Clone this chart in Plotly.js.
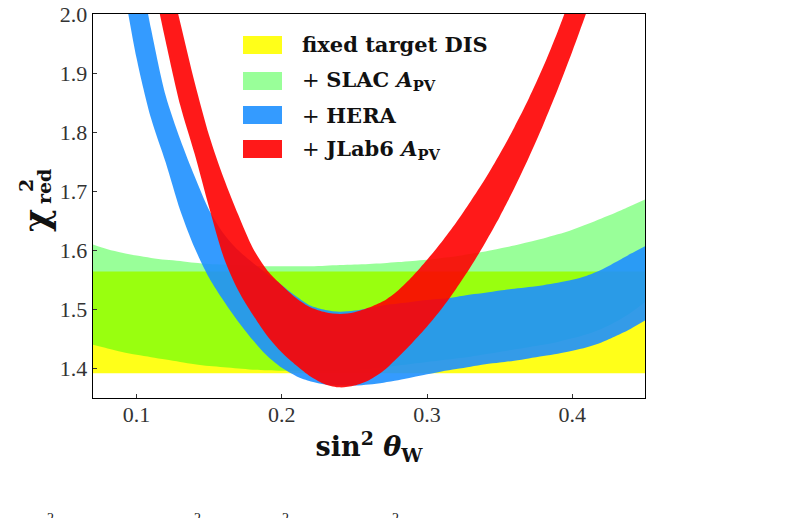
<!DOCTYPE html>
<html>
<head>
<meta charset="utf-8">
<script src="https://cdn.plot.ly/plotly-3.0.1.min.js"></script>
<style>
  html, body { margin: 0; padding: 0; background: #fff; }
  #chart { width: 792px; height: 518px; }
</style>
</head>
<body>
<div id="chart"></div>
<script>
// sin^2(theta_W) scan grid
const sin2w = [0.07, 0.08, 0.09, 0.10, 0.11, 0.12, 0.13, 0.14, 0.15, 0.16,
               0.17, 0.18, 0.19, 0.20, 0.21, 0.22, 0.23, 0.24, 0.25, 0.26,
               0.27, 0.28, 0.29, 0.30, 0.31, 0.32, 0.33, 0.34, 0.35, 0.36,
               0.37, 0.38, 0.39, 0.40, 0.41, 0.42, 0.43, 0.44, 0.45];

// fixed target DIS only: flat chi2_red band
const disX  = [0.07, 0.45];
const disLo = [1.392, 1.392];
const disHi = [1.564, 1.564];

// + SLAC A_PV
const slacLo = [1.440, 1.434, 1.428, 1.423, 1.419, 1.415, 1.411, 1.407, 1.404, 1.402,
                1.400, 1.398, 1.397, 1.396, 1.396, 1.396, 1.396, 1.397, 1.398, 1.400,
                1.402, 1.405, 1.408, 1.411, 1.414, 1.417, 1.420, 1.424, 1.428, 1.432,
                1.436, 1.440, 1.445, 1.451, 1.458, 1.467, 1.479, 1.494, 1.512];
const slacHi = [1.610, 1.602, 1.596, 1.591, 1.587, 1.584, 1.582, 1.579, 1.577, 1.576,
                1.575, 1.574, 1.573, 1.573, 1.573, 1.573, 1.574, 1.575, 1.576, 1.577,
                1.578, 1.580, 1.582, 1.584, 1.587, 1.590, 1.594, 1.598, 1.603, 1.608,
                1.614, 1.620, 1.627, 1.635, 1.644, 1.654, 1.664, 1.675, 1.686];

// + HERA
const heraLo = [2.350, 2.200, 2.060, 1.925, 1.823, 1.749, 1.668, 1.604, 1.553, 1.514,
                1.479, 1.448, 1.421, 1.401, 1.387, 1.378, 1.373, 1.371, 1.371, 1.373,
                1.376, 1.380, 1.385, 1.390, 1.395, 1.399, 1.403, 1.407, 1.410, 1.413,
                1.417, 1.421, 1.425, 1.430, 1.436, 1.444, 1.455, 1.467, 1.481];
const heraHi = [2.520, 2.380, 2.240, 2.104, 1.974, 1.862, 1.788, 1.725, 1.668, 1.628,
                1.600, 1.579, 1.560, 1.541, 1.522, 1.506, 1.499, 1.496, 1.498, 1.502,
                1.507, 1.510, 1.513, 1.516, 1.518, 1.521, 1.525, 1.528, 1.532, 1.535,
                1.538, 1.541, 1.545, 1.550, 1.557, 1.567, 1.580, 1.594, 1.607];

// + JLab6 A_PV
const jlabLo = [2.550, 2.430, 2.310, 2.190, 2.070, 1.954, 1.846, 1.763, 1.672, 1.588,
                1.532, 1.491, 1.455, 1.427, 1.405, 1.386, 1.373, 1.368, 1.371, 1.380,
                1.396, 1.419, 1.444, 1.471, 1.501, 1.535, 1.572, 1.613, 1.657, 1.705,
                1.757, 1.813, 1.873, 1.937, 2.005, 2.077, 2.150, 2.230, 2.310];
const jlabHi = [2.700, 2.580, 2.460, 2.340, 2.210, 2.090, 1.986, 1.884, 1.794, 1.722,
                1.660, 1.604, 1.566, 1.541, 1.519, 1.503, 1.495, 1.492, 1.495, 1.503,
                1.514, 1.532, 1.556, 1.584, 1.614, 1.647, 1.683, 1.721, 1.763, 1.808,
                1.857, 1.911, 1.971, 2.037, 2.110, 2.190, 2.270, 2.350, 2.430];

const xTickVals   = [0.1, 0.2, 0.3, 0.4];
const xTickText   = ['0.1', '0.2', '0.3', '0.4'];
const yTickVals   = [1.4, 1.5, 1.6, 1.7, 1.8, 1.9, 2.0];
const yTickText   = ['1.4', '1.5', '1.6', '1.7', '1.8', '1.9', '2.0'];

const legendLabels = [
  '<b>fixed target DIS</b>',
  '+ <b>SLAC <i>A</i><sub>PV</sub></b>',
  '+ <b>HERA</b>',
  '+ <b>JLab6 <i>A</i><sub>PV</sub></b>'
];
const bandColors = [
  'rgba(255,255,0,0.9)',
  'rgba(0,255,0,0.4)',
  'rgba(30,144,255,0.9)',
  'rgba(255,0,0,0.9)'
];

// plot box in pixels
const L = 93, R = 645, T = 14, B = 398;
const W = 792, H = 518;
const px = v => (v - L) / (R - L);
const py = v => (B - v) / (B - T);

function band(x, lo, hi, color, name) {
  const common = { x: x, mode: 'lines', type: 'scatter', hoverinfo: 'skip',
                   showlegend: false,
                   line: { width: 0, shape: 'spline', smoothing: 0.8 } };
  return [
    Object.assign({}, common, { y: lo, name: name + ' lo' }),
    Object.assign({}, common, { y: hi, name: name, fill: 'tonexty', fillcolor: color })
  ];
}

const traces = [].concat(
  band(disX, disLo, disHi, bandColors[0], 'fixed target DIS'),
  band(sin2w, slacLo, slacHi, bandColors[1], '+SLAC'),
  band(sin2w, heraLo, heraHi, bandColors[2], '+HERA'),
  band(sin2w, jlabLo, jlabHi, bandColors[3], '+JLab6')
);

// hand-made legend: swatches + labels
const rowY = [45, 81, 115, 149];
const shapes = rowY.map((y, i) => ({
  type: 'rect', xref: 'paper', yref: 'paper',
  x0: px(243), x1: px(282), y0: py(y + 9), y1: py(y - 9),
  fillcolor: bandColors[i], line: { width: 0 }, layer: 'above'
}));

const serif = 'DejaVu Serif, serif';
const annotations = rowY.map((y, i) => ({
  xref: 'paper', yref: 'paper', x: px(300), y: py(y),
  xanchor: 'left', yanchor: 'middle', showarrow: false,
  text: legendLabels[i], font: { family: serif, size: 21, color: '#111' }
}));

// y-axis label: chi with stacked 2 / red
annotations.push(
  { xref: 'paper', yref: 'paper', x: px(36), y: py(221), textangle: -90,
    xanchor: 'center', yanchor: 'middle', showarrow: false,
    text: '<b>χ</b>', font: { family: serif, size: 35, color: '#111' } },
  { xref: 'paper', yref: 'paper', x: px(26), y: py(186), textangle: -90,
    xanchor: 'center', yanchor: 'middle', showarrow: false,
    text: '<b>2</b>', font: { family: serif, size: 19, color: '#111' } },
  { xref: 'paper', yref: 'paper', x: px(44), y: py(187), textangle: -90,
    xanchor: 'center', yanchor: 'middle', showarrow: false,
    text: '<b>red</b>', font: { family: serif, size: 19, color: '#111' } }
);

// superscripts of the caption line running off the bottom edge
[50, 197, 285, 395].forEach(x => annotations.push({
  xref: 'paper', yref: 'paper', x: px(x), y: py(509),
  xanchor: 'center', yanchor: 'top', showarrow: false,
  text: '2', font: { family: 'Liberation Serif, serif', size: 14, color: '#222' }
}));

const axisCommon = {
  showline: true, linecolor: '#000', linewidth: 1.3, mirror: true,
  showgrid: false, zeroline: false,
  ticks: 'inside', ticklen: 4, tickwidth: 1, tickcolor: '#333',
  tickfont: { family: 'Liberation Serif, serif', size: 22, color: '#333' },
  tickmode: 'array'
};

const layout = {
  width: W, height: H,
  margin: { l: L, r: W - R, t: T, b: H - B, pad: 0 },
  paper_bgcolor: '#fff', plot_bgcolor: '#fff',
  showlegend: false,
  xaxis: Object.assign({}, axisCommon, {
    range: [0.07, 0.45], tickvals: xTickVals, ticktext: xTickText,
    ticklabelstandoff: -4,
    title: { text: '<b>sin<sup>2</sup> <i>θ</i><sub>W</sub></b>',
             font: { family: serif, size: 27, color: '#111' }, standoff: 10 }
  }),
  yaxis: Object.assign({}, axisCommon, {
    range: [1.35, 2.0], tickvals: yTickVals, ticktext: yTickText
  }),
  shapes: shapes,
  annotations: annotations
};

Plotly.newPlot('chart', traces, layout, { staticPlot: true, displayModeBar: false });
</script>
</body>
</html>
